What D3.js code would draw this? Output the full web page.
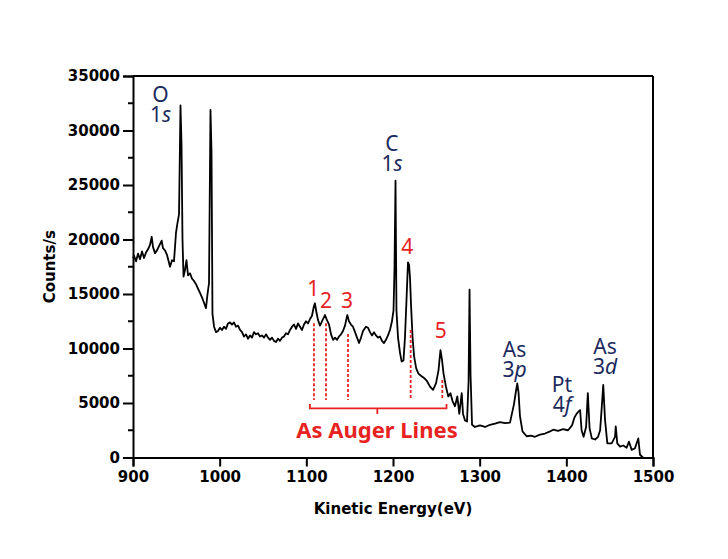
<!DOCTYPE html>
<html><head><meta charset="utf-8">
<script src="https://cdn.jsdelivr.net/npm/d3@7"></script>
<style>body{margin:0;background:#fff;} svg{display:block;}</style>
</head><body>
<svg id="chart" width="728" height="559"></svg>
<script>
// ---- data ----
const energy = [900,901.2,903.5,905.8,908.1,910.4,912.7,915.0,917.3,919.6,921.6,923.1,925.4,927.7,930.0,933.1,934.6,936.9,939.2,942.7,945.0,947.3,949.6,951.3,953.1,954.8,956.0,957.1,958.3,960.0,961.7,963.5,965.8,968.1,970.4,972.7,975.0,977.3,979.6,981.9,984.2,986.0,987.7,989.4,990.6,991.7,993.5,995.8,998.1,1000.4,1002.7,1005.0,1007.3,1009.6,1011.9,1014.2,1016.5,1018.8,1021.2,1023.5,1025.8,1028.1,1030.4,1032.7,1035.0,1037.3,1039.6,1041.9,1044.2,1046.5,1048.8,1051.2,1053.5,1055.8,1058.1,1060.4,1062.7,1065.0,1067.3,1069.6,1071.9,1074.2,1076.5,1078.8,1081.2,1083.5,1085.8,1088.1,1090.4,1092.7,1095.0,1097.3,1099.6,1101.9,1104.2,1106.5,1108.8,1109.9,1111.7,1113.5,1115.8,1118.1,1121.5,1123.8,1126.2,1128.5,1130.8,1133.1,1135.4,1137.7,1140.0,1142.3,1144.6,1147.3,1149.2,1151.5,1153.8,1156.2,1158.5,1160.8,1163.1,1165.4,1168.8,1171.2,1173.5,1175.8,1178.1,1180.4,1182.7,1185.0,1187.3,1189.6,1191.9,1194.2,1196.5,1198.8,1200.6,1201.7,1202.9,1204.0,1205.8,1208.1,1210.0,1212.1,1213.8,1215.6,1217.3,1218.5,1219.6,1220.8,1222.6,1224.3,1226.7,1229.3,1232.3,1235.8,1239.3,1242.7,1246.2,1249.6,1252.5,1254.8,1256.5,1258.3,1261.1,1263.8,1266.3,1268.6,1271.5,1274.2,1276.5,1279.3,1280.8,1283.1,1285.4,1287.2,1288.3,1289.5,1291.2,1294.6,1300.4,1306.2,1311.9,1317.7,1323.4,1329.2,1335.0,1337.3,1339.6,1341.9,1343.4,1344.8,1346.5,1349.4,1354.2,1359.2,1363.8,1369.6,1375.4,1381.2,1385.0,1390.4,1396.2,1402.0,1406.6,1409.5,1411.8,1413.9,1415.9,1417.6,1419.9,1422.8,1424.8,1426.8,1429.4,1433.2,1436.6,1439.0,1440.9,1442.6,1444.6,1447.3,1452.3,1456.2,1457.0,1458.8,1462.0,1465.7,1469.6,1472.3,1475.4,1479.2,1483.0,1485.0,1488.4];
const counts = [18300,18500,18000,18700,18200,18900,18300,18800,19100,19500,20250,19300,18750,19000,19400,19900,19200,19000,18600,17500,18100,18000,20600,21500,22300,32300,28700,20000,16600,17200,18100,16700,16900,16400,16200,15900,15500,15100,14700,14200,13700,15000,16000,31900,28000,13200,12000,11500,11600,11900,11700,12000,11800,12300,12400,12200,12400,12000,12100,11700,11500,11100,11300,10900,11200,11000,11500,11300,11400,11100,11200,11000,11300,11000,10800,11000,10700,10600,10900,10700,11000,11100,11400,11300,11700,12000,12200,11800,12300,12000,11700,12200,12500,12300,12700,13000,13900,14150,13300,12600,12100,12500,13070,12600,12200,11300,10800,11000,10800,11100,11300,11600,12100,13070,12500,12200,12000,11500,11000,10500,11000,11600,12000,11900,11500,11200,11500,11200,11000,11100,10700,10500,10800,11200,11700,12500,13500,17200,25400,13500,11000,9600,8800,8900,11000,14500,17900,17700,16500,14000,11000,9300,8200,7700,7500,7300,7000,6500,6200,6800,8000,9850,9000,7700,6500,5600,5900,5200,4700,5600,4000,5900,4000,3400,3300,7000,15400,7500,3000,2800,2950,2800,3000,3100,3250,3150,3200,4050,4900,6100,6800,6000,3800,2400,1950,2000,1900,2100,2200,2400,2550,2450,2600,2500,2950,3700,4000,4200,4350,2500,1900,2800,5900,2700,1750,1650,1900,2500,4650,6650,3500,1300,1300,1900,2850,1300,1000,1100,900,1450,700,850,1750,250,0];

const xTicks = [900,1000,1100,1200,1300,1400,1500];
const yTicks = [0,5000,10000,15000,20000,25000,30000,35000];
const yMinor = [2500,7500,12500,17500,22500,27500,32500];

// element labels: [element, orbital number, orbital letter, energy, counts at first baseline]
const peakLabels = [
  ["O","1","s",931.7,32640],
  ["C","1","s",1198.8,28150],
  ["As","3","p",1340.2,9190],
  ["Pt","4","f",1395.0,6040],
  ["As","3","d",1444.6,9500]
];
// Auger numbers: [label, energy, counts]
const augerNums = [["1",1108,14840],["2",1122.7,13690],["3",1147,13740],["4",1216.5,18670],["5",1255,10940]];
// dashed markers: [energy, top counts]
const augerLines = [[1108.8,12310],[1122.7,12310],[1148.1,11330],[1220.4,11700],[1256.9,7110]];
const augerBottom = 5275;
const bracket = {from:1104.1, to:1261.7, level:4510, endTop:4910, mid:1181.9, midBottom:3990};
const bracketText = ["As Auger Lines",1181.5,1790];

// ---- layout ----
const svg = d3.select("#chart");
const L=133, R=653, T=76, B=457.5;
const x = d3.scaleLinear().domain([900,1500]).range([L,R]);
const y = d3.scaleLinear().domain([0,35000]).range([B,T]);

const navy = "#1c2a5e", red = "#e8231f";

// frame top & right
svg.append("line").attr("x1",L).attr("x2",R).attr("y1",T).attr("y2",T).attr("stroke","#000").attr("stroke-width",2);
svg.append("line").attr("x1",R).attr("x2",R).attr("y1",T).attr("y2",B).attr("stroke","#000").attr("stroke-width",2);

// axes
const xAxis = d3.axisBottom(x).tickValues(xTicks).tickSize(9).tickPadding(5).tickFormat(d3.format("d"));
const gx = svg.append("g").attr("transform",`translate(0,${B})`).call(xAxis);
const yAxis = d3.axisLeft(y).tickValues(yTicks).tickSize(10).tickPadding(3).tickFormat(d3.format("d"));
const gy = svg.append("g").attr("transform",`translate(${L},0)`).call(yAxis);
gy.selectAll(".minor").data(yMinor).enter().append("line").attr("class","minor")
  .attr("x1",-5).attr("x2",0).attr("y1",d=>y(d)).attr("y2",d=>y(d)).attr("stroke","#000").attr("stroke-width",2);
[gx,gy].forEach(g=>{
  g.select(".domain").attr("stroke","#000").attr("stroke-width",2);
  g.selectAll(".tick line").attr("stroke","#000").attr("stroke-width",2);
  g.selectAll(".tick text").attr("font-family","DejaVu Sans").attr("font-weight","bold").attr("font-size",15).attr("fill","#000");
});

// axis titles
svg.append("text").attr("x",(L+R)/2).attr("y",514).attr("text-anchor","middle")
  .attr("font-family","DejaVu Sans").attr("font-weight","bold").attr("font-size",15).text("Kinetic Energy(eV)");
svg.append("text").attr("transform",`translate(55,${(T+B)/2}) rotate(-90)`).attr("text-anchor","middle")
  .attr("font-family","DejaVu Sans").attr("font-weight","bold").attr("font-size",15).text("Counts/s");

// spectrum
const pts = energy.map((e,i)=>[e,counts[i]]);
svg.append("path").datum(pts)
  .attr("d", d3.line().x(d=>x(d[0])).y(d=>y(d[1])))
  .attr("fill","none").attr("stroke","#000").attr("stroke-width",1.8).attr("stroke-linejoin","round");

// element labels (one text element, two lines)
peakLabels.forEach(([el,n,orb,e,c])=>{
  const t = svg.append("text").attr("font-family","Noto Sans").attr("font-size",21).attr("fill",navy).attr("text-anchor","middle")
    .attr("x",x(e)).attr("y",y(c));
  t.append("tspan").attr("x",x(e)).text(el);
  t.append("tspan").attr("x",x(e)).attr("dy",20).text(n);
  t.append("tspan").attr("font-style","italic").text(orb);
});

// auger annotations
svg.selectAll(".an").data(augerNums).enter().append("text")
  .attr("x",d=>x(d[1])).attr("y",d=>y(d[2])).attr("text-anchor","middle")
  .attr("font-family","Noto Sans").attr("font-size",21).attr("fill",red).text(d=>d[0]);
svg.selectAll(".al").data(augerLines).enter().append("line")
  .attr("x1",d=>x(d[0])).attr("x2",d=>x(d[0])).attr("y1",d=>y(d[1])).attr("y2",y(augerBottom))
  .attr("stroke",red).attr("stroke-width",1.8).attr("stroke-dasharray","3,2");
const bp = d3.path();
bp.moveTo(x(bracket.from),y(bracket.endTop)); bp.lineTo(x(bracket.from),y(bracket.level));
bp.lineTo(x(bracket.to),y(bracket.level)); bp.lineTo(x(bracket.to),y(bracket.endTop));
bp.moveTo(x(bracket.mid),y(bracket.level)); bp.lineTo(x(bracket.mid),y(bracket.midBottom));
svg.append("path").attr("d",bp.toString()).attr("fill","none").attr("stroke",red).attr("stroke-width",1.8);
svg.append("text").attr("x",x(bracketText[1])).attr("y",y(bracketText[2])).attr("text-anchor","middle")
  .attr("font-family","Noto Sans").attr("font-weight","bold").attr("font-size",22).attr("fill",red).text(bracketText[0]);
</script>
</body></html>
